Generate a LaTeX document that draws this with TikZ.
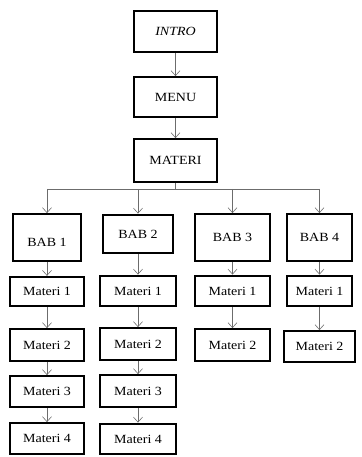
\documentclass[tikz,border=0pt]{standalone}
\usepackage{fontspec}
\setmainfont{Liberation Serif}[FakeStretch=1.12]
\usetikzlibrary{arrows.meta}
\tikzstyle{box} = [rectangle, draw=black, line width=2.3pt, text centered, font=\fontsize{12.5}{14}\selectfont, minimum width=83.5pt, minimum height=40.5pt, inner sep=2pt]
\tikzstyle{babbox} = [box, minimum width=68.5pt, minimum height=46.5pt]
\tikzstyle{materibox} = [box, minimum width=74.5pt, minimum height=30.5pt]
\tikzstyle{arrow} = [draw=gray!85!black, line width=0.6pt, ->, >={Straight Barb[length=5pt,width=9pt]}]
\tikzstyle{line} = [draw=gray!85!black, line width=0.6pt]

\begin{document}
\begin{tikzpicture}[node distance=53pt]
  \useasboundingbox (0,0) rectangle (361pt,-457pt);

  \node (intro) [box] at (175.5pt,-31.5pt) {\textit{INTRO}};
  \node (menu) [box, below of=intro, yshift=-12.5pt, minimum height=39.5pt] {MENU};
  \node (materi) [box, below of=menu, yshift=-10.5pt, minimum height=42.5pt] {MATERI};

  \node (bab1) [babbox, below of=materi, xshift=-128.5pt, yshift=-24pt, text height=18pt, text depth=0pt] {BAB 1};
  \node (bab2) [babbox, below of=materi, xshift=-37.5pt, yshift=-20.5pt, minimum width=69.5pt, minimum height=38.5pt] {BAB 2};
  \node (bab3) [babbox, below of=materi, xshift=57pt, yshift=-24pt, minimum width=75.5pt] {BAB 3};
  \node (bab4) [babbox, below of=materi, xshift=144pt, yshift=-24pt, minimum width=65.5pt] {BAB 4};

  \node (m11) [materibox, below of=bab1, yshift=-1pt, minimum height=29pt] {Materi 1};
  \node (m12) [materibox, below of=m11, yshift=-0.5pt, minimum height=31.5pt] {Materi 2};
  \node (m13) [materibox, below of=m12, yshift=6.5pt] {Materi 3};
  \node (m14) [materibox, below of=m13, yshift=6pt] {Materi 4};

  \node (m21) [materibox, below of=bab2, yshift=-4pt, minimum width=75.5pt] {Materi 1};
  \node (m22) [materibox, below of=m21, yshift=0pt, minimum width=75.5pt, minimum height=31.5pt] {Materi 2};
  \node (m23) [materibox, below of=m22, yshift=6pt, minimum width=75.5pt, minimum height=31.5pt] {Materi 3};
  \node (m24) [materibox, below of=m23, yshift=5pt, minimum width=75.5pt] {Materi 4};

  \node (m31) [materibox, below of=bab3, yshift=-0.5pt, minimum width=75.5pt] {Materi 1};
  \node (m32) [materibox, below of=m31, yshift=-1pt, minimum width=75.5pt, minimum height=31.5pt] {Materi 2};

  \node (m41) [materibox, below of=bab4, yshift=-0.5pt, minimum width=65.5pt] {Materi 1};
  \node (m42) [materibox, below of=m41, yshift=-2.5pt, minimum width=71.5pt] {Materi 2};

  \draw [arrow] (intro) -- (menu);
  \draw [arrow] (menu) -- (materi);
  \draw [line] (materi.south) -- ++(0,-6pt) coordinate (split);
  \draw [line] (split -| bab1) -- (split -| bab4);
  \draw [arrow] (split -| bab1) -- (bab1.north);
  \draw [arrow] (split -| bab2) -- (bab2.north);
  \draw [arrow] (split -| bab3) -- (bab3.north);
  \draw [arrow] (split -| bab4) -- (bab4.north);

  \draw [arrow] (bab1) -- (m11);
  \draw [arrow] (m11) -- (m12);
  \draw [arrow] (m12) -- (m13);
  \draw [arrow] (m13) -- (m14);
  \draw [arrow] (bab2) -- (m21);
  \draw [arrow] (m21) -- (m22);
  \draw [arrow] (m22) -- (m23);
  \draw [arrow] (m23) -- (m24);
  \draw [arrow] (bab3) -- (m31);
  \draw [arrow] (m31) -- (m32);
  \draw [arrow] (bab4) -- (m41);
  \draw [arrow] (m41) -- (m42);

\end{tikzpicture}
\end{document}
